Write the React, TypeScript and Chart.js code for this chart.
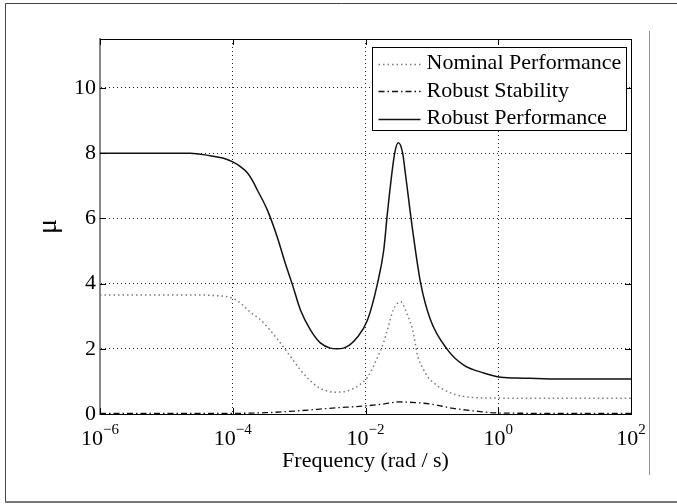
import { useEffect, useRef } from 'react';
import { Chart, registerables } from 'chart.js';

Chart.register(...registerables);

const SERIF = '"Liberation Serif", "Times New Roman", Times, serif';

// Axis ticks
const xTickExponents = [-6, -4, -2, 0, 2];
const yTickValues = [0, 2, 4, 6, 8, 10];
const xMin = 1e-6;
const xMax = 1e2;
const yMin = 0;
const yMax = 11.5;

// Series names
const seriesNames = ['Nominal Performance', 'Robust Stability', 'Robust Performance'];

// Nominal Performance (log10 frequency, mu)
const nominalExp = [-6, -5, -4.5, -4.25, -4.1, -4.0, -3.87, -3.74, -3.6, -3.48, -3.36, -3.24, -3.1, -2.98, -2.85, -2.72, -2.6, -2.48, -2.35, -2.23, -2.1, -1.97, -1.85, -1.73, -1.67, -1.58, -1.47, -1.38, -1.29, -1.21, -1.13, -1.06, -0.95, -0.82, -0.65, -0.46, -0.07, 1.0, 2.0];
const nominalMu = [3.65, 3.65, 3.65, 3.63, 3.6, 3.55, 3.38, 3.13, 2.92, 2.67, 2.38, 2.06, 1.68, 1.35, 1.06, 0.83, 0.72, 0.67, 0.68, 0.74, 0.88, 1.13, 1.6, 2.18, 2.58, 3.2, 3.44, 3.1, 2.58, 1.75, 1.38, 1.13, 0.92, 0.74, 0.6, 0.52, 0.49, 0.48, 0.48];

// Robust Stability
const stabilityExp = [-6, -4.0, -3.5, -3.0, -2.5, -2.0, -1.75, -1.5, -1.25, -1.0, -0.7, -0.3, 0, 1, 2];
const stabilityMu = [0.02, 0.02, 0.04, 0.1, 0.18, 0.25, 0.3, 0.37, 0.35, 0.3, 0.18, 0.08, 0.03, 0.02, 0.02];

// Robust Performance
const perfExp = [-6, -5, -4.64, -4.34, -4.15, -4.0, -3.88, -3.78, -3.7, -3.63, -3.48, -3.33, -3.21, -3.10, -2.98, -2.83, -2.68, -2.53, -2.43, -2.33, -2.12, -1.97, -1.82, -1.725, -1.67, -1.56, -1.505, -1.44, -1.40, -1.29, -1.17, -1.02, -0.76, -0.52, -0.22, 0.04, 0.38, 0.69, 1.0, 2.0];
const perfMu = [8.0, 8.0, 8.0, 7.92, 7.85, 7.73, 7.58, 7.4, 7.15, 6.87, 6.26, 5.43, 4.63, 3.96, 3.19, 2.58, 2.18, 2.02, 2.0, 2.02, 2.36, 2.88, 4.0, 5.03, 6.16, 8.0, 8.32, 8.0, 7.39, 5.64, 4.02, 2.88, 1.96, 1.50, 1.26, 1.13, 1.10, 1.08, 1.07, 1.07];

const toPoints = (exps: number[], vals: number[]) => exps.map((e, i) => ({ x: Math.pow(10, e), y: vals[i] }));

const seriesStyles = [
  { color: '#7a7a7a', width: 1.5, dash: [1.5, 3] },
  { color: '#111111', width: 1.3, dash: [6, 3, 1.5, 3] },
  { color: '#111111', width: 1.5, dash: [] as number[] },
];

const decorPlugin = {
  id: 'decor',
  beforeDraw(chart: any) {
    const ctx = chart.ctx as CanvasRenderingContext2D;
    ctx.save();
    ctx.fillStyle = '#ffffff';
    ctx.fillRect(0, 0, chart.width, chart.height);
    // outer frame
    ctx.strokeStyle = '#444444';
    ctx.lineWidth = 1;
    ctx.beginPath();
    ctx.moveTo(5.5, 502);
    ctx.lineTo(5.5, 3.5);
    ctx.lineTo(chart.width, 3.5);
    ctx.stroke();
    ctx.strokeStyle = '#777777';
    ctx.lineWidth = 2;
    ctx.beginPath();
    ctx.moveTo(5, 502);
    ctx.lineTo(chart.width, 502);
    ctx.stroke();
    // green separator line
    ctx.strokeStyle = '#5cb85c';
    ctx.lineWidth = 1;
    ctx.beginPath();
    ctx.moveTo(649.5, 31);
    ctx.lineTo(649.5, 475);
    ctx.stroke();
    ctx.restore();
  },
  afterDatasetsDraw(chart: any) {
    const ctx = chart.ctx as CanvasRenderingContext2D;
    const area = chart.chartArea;
    const xs = chart.scales.x;
    const ys = chart.scales.y;
    ctx.save();
    // top and right box edges
    ctx.strokeStyle = '#000';
    ctx.lineWidth = 1;
    ctx.setLineDash([]);
    ctx.beginPath();
    ctx.moveTo(area.left, area.top + 0.5);
    ctx.lineTo(area.right + 0.5, area.top + 0.5);
    ctx.lineTo(area.right + 0.5, area.bottom);
    ctx.stroke();
    // inner tick marks
    const tl = 6;
    ctx.beginPath();
    xTickExponents.forEach((e) => {
      const px = Math.round(xs.getPixelForValue(Math.pow(10, e))) + 0.5;
      ctx.moveTo(px, area.bottom);
      ctx.lineTo(px, area.bottom - tl);
      ctx.moveTo(px, area.top);
      ctx.lineTo(px, area.top + tl);
    });
    yTickValues.forEach((v) => {
      const py = Math.round(ys.getPixelForValue(v)) + 0.5;
      ctx.moveTo(area.left, py);
      ctx.lineTo(area.left + tl, py);
      ctx.moveTo(area.right, py);
      ctx.lineTo(area.right - tl, py);
    });
    ctx.stroke();

    // legend
    const bw = 254;
    const bh = 83;
    const bx = Math.round(area.right - 5 - bw) + 0.5;
    const by = Math.round(area.top + 8) + 0.5;
    ctx.fillStyle = '#fff';
    ctx.fillRect(bx, by, bw, bh);
    ctx.strokeStyle = '#000';
    ctx.lineWidth = 1;
    ctx.strokeRect(bx, by, bw, bh);
    ctx.font = `22px ${SERIF}`;
    ctx.textBaseline = 'middle';
    ctx.textAlign = 'left';
    seriesNames.forEach((name, i) => {
      const cy = by + 16 + i * 27.5;
      const st = seriesStyles[i];
      ctx.strokeStyle = st.color;
      ctx.lineWidth = st.width;
      ctx.setLineDash(st.dash);
      ctx.beginPath();
      ctx.moveTo(bx + 6, Math.round(cy) + 0.5);
      ctx.lineTo(bx + 48, Math.round(cy) + 0.5);
      ctx.stroke();
      ctx.setLineDash([]);
      ctx.fillStyle = '#000';
      ctx.fillText(name, bx + 54, cy);
    });
    ctx.restore();
  },
  afterDraw(chart: any) {
    const ctx = chart.ctx as CanvasRenderingContext2D;
    const xs = chart.scales.x;
    const area = chart.chartArea;
    ctx.save();
    ctx.fillStyle = '#000';
    ctx.textAlign = 'left';
    ctx.textBaseline = 'alphabetic';
    xTickExponents.forEach((e) => {
      const px = xs.getPixelForValue(Math.pow(10, e));
      const base = '10';
      const sup = e < 0 ? '\u2212' + Math.abs(e) : String(e);
      ctx.font = `22px ${SERIF}`;
      const wb = ctx.measureText(base).width;
      ctx.font = `15px ${SERIF}`;
      const wsup = ctx.measureText(sup).width;
      const x0 = px - (wb + wsup) / 2;
      ctx.font = `22px ${SERIF}`;
      ctx.fillText(base, x0, area.bottom + 31);
      ctx.font = `15px ${SERIF}`;
      ctx.fillText(sup, x0 + wb, area.bottom + 20);
    });
    ctx.restore();
  },
};

export default function App() {
  const canvasRef = useRef<HTMLCanvasElement | null>(null);

  useEffect(() => {
    document.body.style.margin = '0';
    const canvas = canvasRef.current;
    if (!canvas) return;
    const chart = new Chart(canvas, {
      type: 'line',
      data: {
        datasets: [
          { label: seriesNames[0], data: toPoints(nominalExp, nominalMu) },
          { label: seriesNames[1], data: toPoints(stabilityExp, stabilityMu) },
          { label: seriesNames[2], data: toPoints(perfExp, perfMu) },
        ].map((d, i) => ({
          ...d,
          borderColor: seriesStyles[i].color,
          borderWidth: seriesStyles[i].width,
          borderDash: seriesStyles[i].dash,
          pointRadius: 0,
          fill: false,
          cubicInterpolationMode: 'monotone' as const,
        })),
      },
      options: {
        responsive: false,
        animation: false,
        events: [],
        layout: { padding: { left: 0, top: 39, right: 46, bottom: 0 } },
        plugins: { legend: { display: false }, tooltip: { enabled: false } },
        scales: {
          x: {
            type: 'logarithmic',
            min: xMin,
            max: xMax,
            afterBuildTicks: (s: any) => {
              s.ticks = xTickExponents.map((e) => ({ value: Math.pow(10, e) }));
            },
            afterFit: (s: any) => {
              s.height = 90;
            },
            ticks: { display: false },
            grid: { color: '#222', lineWidth: 1, drawTicks: false },
            border: { display: true, color: '#000', width: 1, dash: [1, 3] },
            title: {
              display: true,
              text: 'Frequency (rad / s)',
              color: '#000',
              font: { family: SERIF, size: 22 },
              padding: { top: 0, bottom: 30 },
            },
          },
          y: {
            type: 'linear',
            min: yMin,
            max: yMax,
            afterBuildTicks: (s: any) => {
              s.ticks = yTickValues.map((v) => ({ value: v }));
            },
            afterFit: (s: any) => {
              s.width = 100;
            },
            ticks: {
              color: '#000',
              font: { family: SERIF, size: 22 },
              padding: 4,
              callback: (v: any) => String(v),
            },
            grid: { color: '#222', lineWidth: 1, drawTicks: false },
            border: { display: true, color: '#888', width: 2, dash: [1, 3] },
            title: {
              display: true,
              text: 'μ',
              color: '#000',
              font: { family: SERIF, size: 28 },
              padding: { top: 32, bottom: 0 },
            },
          },
        },
      },
      plugins: [decorPlugin],
    } as any);
    return () => chart.destroy();
  }, []);

  return (
    <div style={{ position: 'fixed', left: 0, top: 0, width: 677, height: 504 }}>
      <canvas ref={canvasRef} width={677} height={504} style={{ width: 677, height: 504, display: 'block' }} />
    </div>
  );
}
